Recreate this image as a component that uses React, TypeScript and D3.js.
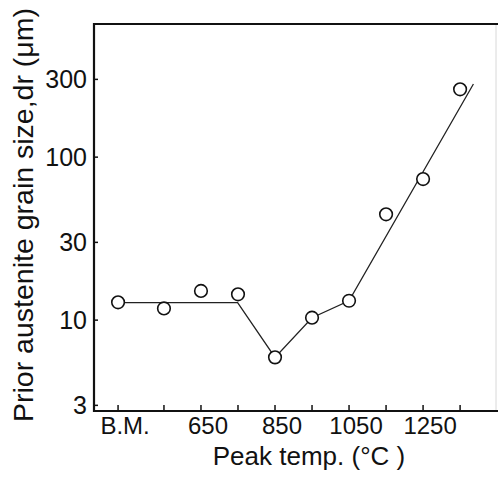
import React from "react";
import * as d3 from "d3";

// x positions in °C; "B.M." (base metal) is placed at a nominal position of 426
const tempPositions = [426, 550, 650, 750, 850, 950, 1050, 1150, 1250, 1350];
const tempLabels = ["B.M.", "", "650", "", "850", "", "1050", "", "1250", ""];
const grainSize = [12.86, 11.8, 15.1, 14.4, 5.91, 10.35, 13.15, 44.6, 73.4, 260.6];

// hand-drawn trend line
const trendX = [426, 749, 850, 950, 1050, 1386];
const trendY = [12.8, 12.8, 5.91, 10.35, 13.15, 281];

const yTicks = [3, 10, 30, 100, 300];

const W = 498;
const H = 477;
const left = 94;
const right = 496;
const top = 24;
const bottom = 411;

export default function App() {
  const x = d3.scaleLinear().domain([361, 1447]).range([left, right]);
  const y = d3.scaleLog().domain([2.77, 656]).range([bottom, top]);
  const line = d3
    .line<number>()
    .x((_, i) => x(trendX[i]))
    .y((d) => y(d));
  const font = "'Liberation Sans', Arial, sans-serif";

  return (
    <svg
      width={W}
      height={H}
      style={{ position: "absolute", left: 0, top: 0, background: "#fff" }}
      fontFamily={font}
    >
      <rect width={W} height={H} fill="#fff" />
      {/* frame */}
      <line x1={right} x2={right} y1={top} y2={bottom} stroke="#d8d8d8" strokeWidth={1} />
      <path
        d={`M${W},${top}H${left}V${bottom}H${W}`}
        fill="none"
        stroke="#111"
        strokeWidth={2.2}
      />
      {/* x ticks */}
      {tempPositions.map((t, i) => (
        <g key={"xt" + i}>
          <line x1={x(t)} x2={x(t)} y1={bottom} y2={bottom - 6} stroke="#111" strokeWidth={1.5} />
          {tempLabels[i] && (
            <text x={x(t) + 7} y={434} textAnchor="middle" fontSize={24} fill="#111">
              {tempLabels[i]}
            </text>
          )}
        </g>
      ))}
      {/* y ticks */}
      {yTicks.map((v) => (
        <g key={"yt" + v}>
          <line x1={left} x2={left + 4} y1={y(v)} y2={y(v)} stroke="#111" strokeWidth={1.5} />
          <text
            x={87}
            y={y(v)}
            dy="0.36em"
            textAnchor="end"
            fontSize={25}
            fill="#111"
          >
            {v}
          </text>
        </g>
      ))}
      {/* trend line */}
      <path d={line(trendY) || ""} fill="none" stroke="#222" strokeWidth={1.3} />
      {/* data points */}
      {grainSize.map((v, i) => (
        <circle
          key={"p" + i}
          cx={x(tempPositions[i])}
          cy={y(v)}
          r={6.3}
          fill="#fff"
          stroke="#111"
          strokeWidth={1.6}
        />
      ))}
      {/* axis titles */}
      <text
        transform="translate(33,215) rotate(-90)"
        textAnchor="middle"
        fontSize={28.5}
        fill="#111"
      >
        Prior austenite grain size,dr (μm)
      </text>
      <text x={309} y={465} textAnchor="middle" fontSize={26} fill="#111">
        Peak temp. (°C )
      </text>
    </svg>
  );
}
